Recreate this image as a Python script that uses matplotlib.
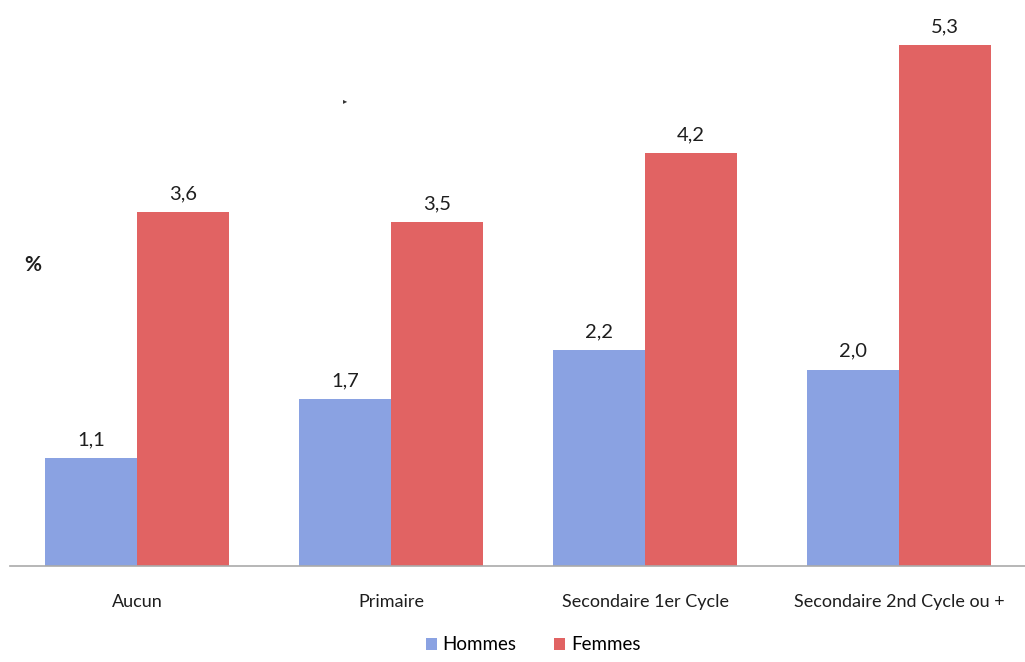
import matplotlib.pyplot as plt
import numpy as np

niveaux = ["Aucun", "Primaire", "Secondaire 1er Cycle", "Secondaire 2nd Cycle ou +"]
hommes = [1.1, 1.7, 2.2, 2.0]
femmes = [3.6, 3.5, 4.2, 5.3]

c_hommes = "#8aa2e2"
c_femmes = "#e16363"

plt.rcParams['font.family'] = ['Lato', 'DejaVu Sans']

fig = plt.figure(figsize=(10.25, 6.62), dpi=100)
ax = fig.add_axes([10/1025, 96/662, 1016/1025, (566-16)/662])

x = np.arange(len(niveaux))
w = 0.362
b1 = ax.bar(x - w/2, hommes, width=w, color=c_hommes, label="Hommes")
b2 = ax.bar(x + w/2, femmes, width=w, color=c_femmes, label="Femmes")

for bars, vals in ((b1, hommes), (b2, femmes)):
    for r, v in zip(bars, vals):
        ax.annotate(f"{v:.1f}".replace(".", ","), (r.get_x() + r.get_width()/2, v),
                    xytext=(0, 7), textcoords="offset points",
                    ha="center", va="bottom", fontsize=14.5, color="#1e1e1e")

ax.set_xlim(-0.5, 3.5)
ax.set_ylim(0, 5.6)
ax.set_yticks([])
ax.set_xticks(x)
ax.set_xticklabels(niveaux, fontsize=13, color="#1e1e1e")
ax.tick_params(axis="x", length=0, pad=20)
for s in ("top", "right", "left"):
    ax.spines[s].set_visible(False)
ax.spines["bottom"].set_color("#aaaaaa")
ax.spines["bottom"].set_linewidth(1.2)

fig.text(33/1025, 1 - 265/662, "%", fontsize=15, fontweight="bold",
         ha="center", va="center", color="#1e1e1e")
fig.text(345/1025, 1 - 101/662, "\u25b8", fontsize=6, ha="center", va="center",
         color="#333333")

fig.legend(handles=[b1, b2], loc="center", bbox_to_anchor=(533/1025, 1 - 645/662),
           ncol=2, frameon=False, fontsize=13.5, handlelength=0.6, handleheight=0.6,
           columnspacing=2.0, handletextpad=0.3)

fig.savefig("out.png", dpi=100, facecolor="white")
